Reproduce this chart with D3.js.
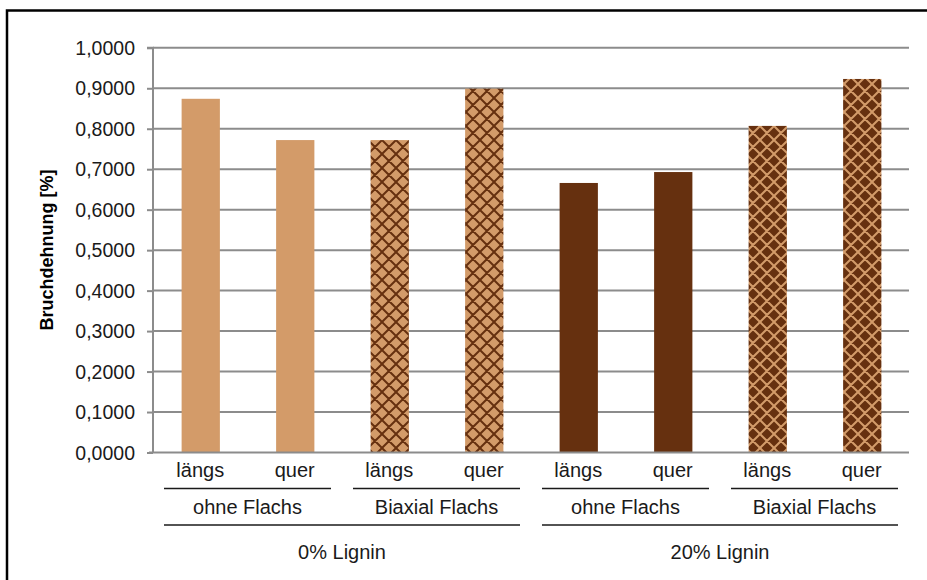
<!DOCTYPE html>
<html><head><meta charset="utf-8">
<script src="https://cdn.jsdelivr.net/npm/d3@7"></script>
<style>html,body{margin:0;padding:0;background:#fff;overflow:hidden}</style>
</head><body>
<svg id="chart" width="927" height="580"></svg>
<script>
const categories = ["längs","quer","längs","quer","längs","quer","längs","quer"];
const flachsGroups = ["ohne Flachs","Biaxial Flachs","ohne Flachs","Biaxial Flachs"];
const ligninGroups = ["0% Lignin","20% Lignin"];
const values = [0.874, 0.772, 0.772, 0.899, 0.666, 0.693, 0.807, 0.923];
const yTicks = [0,0.1,0.2,0.3,0.4,0.5,0.6,0.7,0.8,0.9,1.0];
const yTitle = "Bruchdehnung [%]";

const svg = d3.select("#chart");
const font = "'Liberation Sans', Arial, sans-serif";
const light = "#D39B69", dark = "#66300F";

// frame
svg.append("rect").attr("x",7).attr("y",10.5).attr("width",1000).attr("height",1000)
  .attr("fill","none").attr("stroke","#000").attr("stroke-width",2.5);

const defs = svg.append("defs");
const T = 14;
function hatch(id, bg, fg){
  const p = defs.append("pattern").attr("id",id).attr("patternUnits","userSpaceOnUse")
    .attr("width",T).attr("height",T).attr("x",4).attr("y",0);
  p.append("rect").attr("width",T).attr("height",T).attr("fill",bg);
  p.append("path").attr("d",`M-2,-2L${T+2},${T+2}M-2,${T-2}L2,${T+2}M${T-2},-2L${T+2},2M${T+2},-2L-2,${T+2}M-2,2L2,-2M${T-2},${T+2}L${T+2},${T-2}`)
    .attr("stroke",fg).attr("stroke-width",2).attr("fill","none");
}
hatch("hatchLight", light, dark);
hatch("hatchDark", dark, light);

const x = d3.scaleBand().domain(d3.range(categories.length)).range([153,909]).paddingInner(0).paddingOuter(0);
const y = d3.scaleLinear().domain([0,1]).range([452.5,47.8]);
const fmt = d => d3.format(".4f")(d).replace(".",",");

// gridlines
svg.append("g").selectAll("line").data(yTicks.slice(1)).join("line")
  .attr("x1",153).attr("x2",909).attr("y1",d=>y(d)).attr("y2",d=>y(d))
  .attr("stroke","#8c8c8c").attr("stroke-width",2);

// y axis
const yAxis = d3.axisLeft(y).tickValues(yTicks).tickFormat(fmt).tickSize(6).tickPadding(12);
const ya = svg.append("g").attr("transform","translate(153,0)").call(yAxis);
ya.select(".domain").attr("stroke","#8c8c8c").attr("stroke-width",2).attr("d",`M-6,${y(1)}H0V${y(0)}`);
ya.selectAll(".tick line").attr("stroke","#8c8c8c").attr("stroke-width",2);
ya.selectAll(".tick text").attr("font-family",font).attr("font-size",19.5).attr("fill","#1a1a1a").attr("dy","0.34em");

// bars
const bw = x.bandwidth()*0.405;
svg.append("g").selectAll("rect").data(values).join("rect")
  .attr("x",(d,i)=>x(i)+x.bandwidth()/2-bw/2+0.5)
  .attr("width",bw)
  .attr("y",d=>y(d)).attr("height",d=>y(0)-y(d))
  .attr("fill",(d,i)=>{
    const lig = Math.floor(i/4), fl = Math.floor(i/2)%2;
    if (fl===0) return lig===0 ? light : dark;
    return lig===0 ? "url(#hatchLight)" : "url(#hatchDark)";
  });

// x axis
const xAxis = d3.axisBottom(x).tickFormat(i=>categories[i]).tickSize(0).tickPadding(10);
const xa = svg.append("g").attr("transform",`translate(0,${y(0)})`).call(xAxis);
xa.select(".domain").attr("stroke","#8c8c8c").attr("stroke-width",2).attr("d",`M149,0H909`);
xa.selectAll(".tick text").attr("font-family",font).attr("font-size",20).attr("fill","#1a1a1a");

// group levels
const inset = 11;
const g2 = svg.append("g");
flachsGroups.forEach((name,k)=>{
  const x0 = x(2*k), x1 = x(2*k+1)+x.bandwidth();
  g2.append("line").attr("x1",x0+inset).attr("x2",x1-inset).attr("y1",488.5).attr("y2",488.5)
    .attr("stroke","#1a1a1a").attr("stroke-width",1.5);
  g2.append("text").attr("x",(x0+x1)/2).attr("y",507).attr("dy","0.35em").attr("text-anchor","middle")
    .attr("font-family",font).attr("font-size",20).attr("fill","#1a1a1a").text(name);
});
ligninGroups.forEach((name,k)=>{
  const x0 = x(4*k), x1 = x(4*k+3)+x.bandwidth();
  g2.append("line").attr("x1",x0+inset).attr("x2",x1-inset).attr("y1",525).attr("y2",525)
    .attr("stroke","#1a1a1a").attr("stroke-width",1.5);
  g2.append("text").attr("x",(x0+x1)/2).attr("y",552).attr("dy","0.35em").attr("text-anchor","middle")
    .attr("font-family",font).attr("font-size",20).attr("fill","#1a1a1a").text(name);
});

// y title
svg.append("text").attr("transform",`translate(47,250) rotate(-90)`).attr("dy","0.35em")
  .attr("text-anchor","middle").attr("font-family",font).attr("font-size",18).attr("font-weight","bold")
  .attr("fill","#000").text(yTitle);
</script>
</body></html>
